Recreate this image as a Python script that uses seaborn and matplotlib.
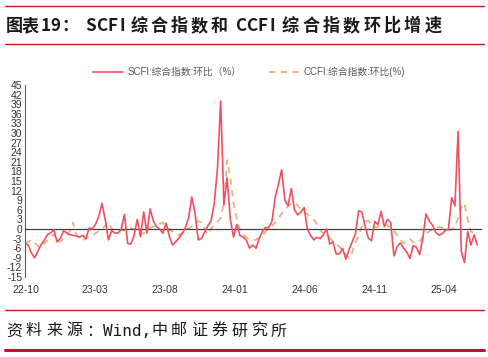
import matplotlib
matplotlib.use('Agg')
import matplotlib.pyplot as plt
import numpy as np
import pandas as pd
import seaborn as sns
from matplotlib.lines import Line2D

# ---------------- data (weekly) ----------------
start_date = '2022-09-30'
n_weeks = 142

scfi = [-4.5, -5, -7.5, -9, -7, -5, -3.5, -1.8, -1.2, -0.3,
        -4, -3, -0.5, -1.2, -1.8, -2, -2.2, -2.5, -2, -3,
        0.3, 0, 1.5, 4, 8, 3, -3.4, -0.5, -1.2, -1.3,
        0, 4.6, -4.5, -4.7, -2, 3, -2.4, 5.3, -1.3, 6.3,
        2.5, 0.7, 0, -1.3, 1.8, -2.3, -5, -4, -2.8, -1.5,
        0.5, 3.5, 10, 5, -3.4, -3, -1, 1, 2.5, 8,
        19, 40, 7.5, 16, 3, -2.5, 1.4, -2, -2.5, -3.5,
        -6, -5, -6, -3, -0.8, 0.5, 0.4, 2.5, 10, 14,
        18.5, 9, 7.3, 12.6, 6, 4.4, 5.3, 6.7, 0, -2,
        -3.4, -2.6, -3, -1.8, 0, -4.7, -4, -7.8, -7.8, -6,
        -9.4, -6.5, -4, -1.5, 5.7, 5.3, 1, -2.8, -3.7, 2.4,
        1.4, 5.5, 0.7, 3, 2, -8.4, -5.5, -4.3, -6, -7.2,
        -9.2, -5.2, -5.7, -8, -3, 4.7, 2.5, 1.2, -1, -1.9,
        -1.5, -0.5, 0, 9.8, 7.2, 30.5, -7, -10.5, -0.8, -5,
        -1.9, -5]

ccfi = [-4.4, -4, -3.4, -4.3, -5.3, -5.8, -4.5, -3.5, -2.4, -1.6,
        -3.5, -4, -3, -2.3, -0.5, 2, -1.8, -3.2, -3.4, -3,
        -2.2, -1.8, -1.3, -0.7, 0, 1, 2.2, 0, -0.4, -0.2,
        -0.3, -0.5, 0, 0.3, 0, -1.5, -1.7, -1.3, 0, 0.3,
        0.8, 1.2, 1.6, 2, 0.7, -0.3, -0.8, -1.2, -2, -1.2,
        0, 0.2, 0.8, 1.5, 2.5, 2, 0, -1.7, 0, 1.3,
        2.3, 3.5, 8, 21.5, 16, 8, 3.5, -0.3, -1.5, -2.5,
        -3.4, -3.4, -3.4, -2.8, -2, -0.8, 0.2, 0.9, 2, 3.3,
        4.8, 6, 7.1, 8, 8.2, 7.4, 6.1, 5.3, 4.6, 3.9,
        3, 1.5, -0.3, -1.4, -2.1, -2.8, -3.9, -4.8, -5.5, -6.8,
        -8, -9.2, -7.2, -4.3, -2, 0.8, 2.4, 2.5, 1.6, 0.5,
        0.7, 1.6, 1.7, 1.1, 0.3, -0.5, -1.9, -3.3, -4.4, -3.5,
        -3, -4.2, -4.4, -4, -2.3, -1.3, -0.8, 0, 0.4, 0.6,
        0.5, -0.2, -0.3, -0.2, 0.6, 3.5, 6.7, 8, 3, -0.8,
        -1.3, -1]

series_names = ['SCFI:综合指数:环比（%）', 'CCFI:综合指数:环比(%)']
tick_dates = ['2022-10-01', '2023-03-01', '2023-08-01', '2024-01-01',
              '2024-06-01', '2024-11-01', '2025-04-01']
tick_labels = ['22-10', '23-03', '23-08', '24-01', '24-06', '24-11', '25-04']
yticks = list(range(-15, 46, 3))

# title / source split into runs: (text, start x in px, advance in px, mono)
title_runs = [('图表', 6, 16, False), ('19', 41, 9.5, False), ('：', 61, 14, False),
              ('SCFI', 85, 11.5, False), ('综合指数和', 131, 20, False),
              ('CCFI', 235, 11.5, False), ('综合指数环比增速', 282, 20.3, False)]
source_runs = [('资料来源：', 6, 20, False), ('Wind,', 103, 0, True),
               ('中邮证券研究所', 151, 20, False)]

# ---------------- figure ----------------
sns.set_theme(style='white')
plt.rcParams['font.family'] = ['Liberation Sans', 'Noto Sans CJK SC', 'DejaVu Sans']

W, H = 489, 357
fig = plt.figure(figsize=(W / 100, H / 100), dpi=100)
fig.patch.set_facecolor('white')

def fx(px):
    return px / W

def fy(py):
    return 1 - py / H

ax = fig.add_axes([fx(25), fy(277), fx(481) - fx(25), fy(85) - fy(277)])
ax.set_facecolor('white')

dates = pd.date_range(start_date, periods=n_weeks, freq='7D')
df = pd.DataFrame({'date': dates, 'SCFI': scfi, 'CCFI': ccfi})

red = '#f0505f'
tan = '#e2b47c'
sns.lineplot(data=df, x='date', y='CCFI', ax=ax, color=tan, lw=1.3,
             linestyle=(0, (3.5, 3)), zorder=2)
sns.lineplot(data=df, x='date', y='SCFI', ax=ax, color=red, lw=1.2, zorder=3)

ax.set_ylim(-15, 45)
ax.set_xlim(pd.Timestamp('2022-09-30'), pd.Timestamp('2025-06-21'))
ax.set_yticks(yticks)
ax.set_yticklabels([str(v) for v in yticks])
ax.set_xticks(pd.to_datetime(tick_dates))
ax.set_xticklabels(tick_labels)
ax.set_xlabel('')
ax.set_ylabel('')

for s in ['top', 'right']:
    ax.spines[s].set_visible(False)
ax.spines['left'].set_color('#595959')
ax.spines['left'].set_linewidth(0.8)
ax.spines['bottom'].set_position(('data', 0))
ax.spines['bottom'].set_color('#404040')
ax.spines['bottom'].set_linewidth(0.9)

ax.tick_params(axis='y', direction='in', length=2.5, width=0.7, color='#595959',
               labelsize=7.5, labelcolor='#333333', pad=2)
ax.tick_params(axis='x', direction='in', length=2.5, width=0.7, color='#404040',
               labelsize=7.5, labelcolor='#333333', pad=40)
ax.grid(False)
if ax.get_legend() is not None:
    ax.get_legend().remove()

# legend
handles = [Line2D([], [], color=red, lw=1.2),
           Line2D([], [], color=tan, lw=1.3, linestyle=(0, (3.5, 3)))]
fig.legend(handles, series_names, loc='center', bbox_to_anchor=(fx(249), fy(72)),
           ncol=2, frameon=False, fontsize=7, handlelength=3.1, handletextpad=0.5,
           columnspacing=2.8, labelcolor='#595959', borderpad=0)

# title and source, character by character to mimic the letter spacing
def place_runs(runs, ycenter, size, weight):
    for text, x0, adv, mono in runs:
        if mono:
            fig.text(fx(x0), fy(ycenter), text, fontsize=size, fontweight=weight,
                     va='center', ha='left', color='#1a1a1a',
                     family=['DejaVu Sans Mono'])
            continue
        for k, ch in enumerate(text):
            fig.text(fx(x0 + k * adv), fy(ycenter), ch, fontsize=size, fontweight=weight,
                     va='center', ha='left', color='#1a1a1a',
                     family=['Noto Sans CJK SC', 'DejaVu Sans'])

place_runs(title_runs, 26, 12.3, 'bold')
place_runs(source_runs, 331, 11.5, 'normal')

def hline(y, lw, color):
    fig.add_artist(Line2D([fx(5), fx(484)], [fy(y), fy(y)], transform=fig.transFigure,
                          color=color, lw=lw))

hline(5.5, 1.0, '#d9141e')
hline(43.8, 1.0, '#d9141e')
hline(310, 1.0, '#d9141e')
hline(350, 2.2, '#c8102e')

fig.savefig('out.png', dpi=100, facecolor='white')
